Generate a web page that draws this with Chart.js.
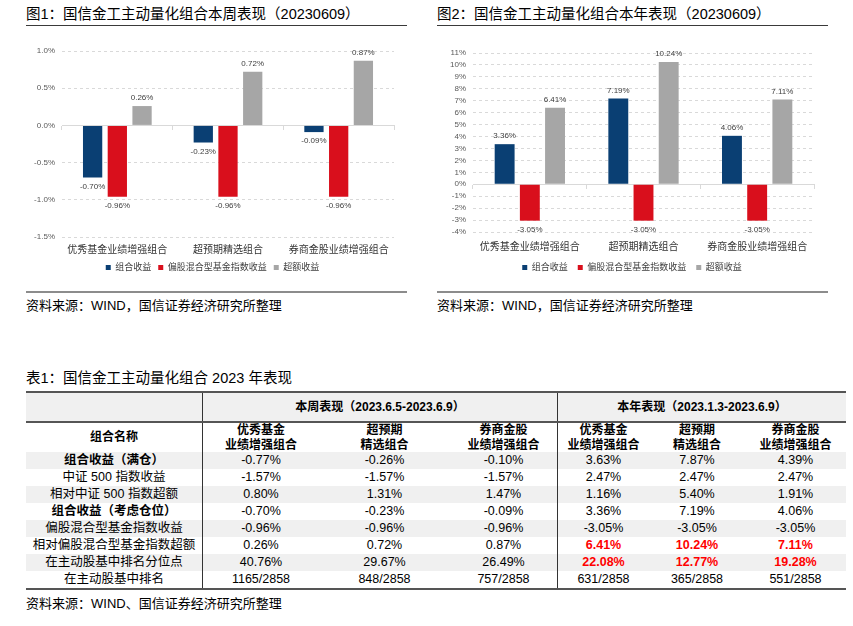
<!DOCTYPE html>
<html>
<head>
<meta charset="utf-8">
<script src="https://cdn.jsdelivr.net/npm/chart.js@4.4.0/dist/chart.umd.min.js"></script>
<style>
  body { margin: 0; width: 853px; height: 626px; background: #fff; position: relative; overflow: hidden;
         font-family: "Liberation Sans", Arial, "Noto Sans CJK SC", sans-serif; color: #000; }
  .fig-title { position: absolute; top: 4px; height: 21px; line-height: 21px; font-size: 14.5px;
               border-bottom: 1.5px solid #3a3a3a; white-space: nowrap; }
  .fig-foot { position: absolute; top: 291px; border-top: 2px solid #8c8c8c; padding-top: 5px;
              font-size: 13px; line-height: 16px; white-space: nowrap; }
  .chart-box { position: absolute; top: 36px; height: 246px; }
  #tbl-title { position: absolute; left: 26px; top: 369px; font-size: 14.5px; line-height: 18px; white-space: nowrap; }
  #tbl { position: absolute; left: 26px; top: 391px; width: 820px; font-size: 12.5px; }
  .row { display: flex; box-sizing: border-box; }
  .row > div { box-sizing: border-box; text-align: center; white-space: nowrap; }
  .head1 { height: 32px; line-height: 28px; background: #f0f0f0; border-top: 2px solid #555; border-bottom: 2px solid #555; font-weight: bold; font-size: 12px; }
  .head2 { height: 29px; font-weight: bold; font-size: 12px; line-height: 15px; }
  .head2 > div { display: flex; flex-direction: column; justify-content: center; }
  .data { height: 17px; line-height: 17px; }
  .data.shade { background: #f0f0f0; }
  .data.last { height: 19px; border-bottom: 2px solid #555; }
  .sep { border-left: 1px solid #333; }
  .b { font-weight: bold; }
  .red { color: #ff0000; font-weight: bold; }
  #tbl-foot { position: absolute; left: 26px; top: 596px; font-size: 13px; line-height: 16px; white-space: nowrap; }
</style>
</head>
<body>

<div class="fig-title" style="left:26px;width:381px;">图1：国信金工主动量化组合本周表现（20230609）</div>
<div class="fig-title" style="left:437px;width:391px;">图2：国信金工主动量化组合本年表现（20230609）</div>

<div class="chart-box" style="left:20px;width:387px;"><canvas id="weekChart"></canvas></div>
<div class="chart-box" style="left:430px;width:398px;"><canvas id="yearChart"></canvas></div>

<div class="fig-foot" style="left:26px;width:381px;">资料来源：WIND，国信证券经济研究所整理</div>
<div class="fig-foot" style="left:437px;width:391px;">资料来源：WIND，国信证券经济研究所整理</div>

<div id="tbl-title">表1：国信金工主动量化组合 2023 年表现</div>
<div id="tbl"></div>
<div id="tbl-foot">资料来源：WIND、国信证券经济研究所整理</div>

<script>
// chart data
const categories = ['优秀基金业绩增强组合', '超预期精选组合', '券商金股业绩增强组合'];
const seriesNames = ['组合收益', '偏股混合型基金指数收益', '超额收益'];
const seriesColors = ['#0a3f73', '#d90f1c', '#a6a6a6'];

const weekPortfolio = [-0.70, -0.23, -0.09];
const weekIndex = [-0.96, -0.96, -0.96];
const weekExcess = [0.26, 0.72, 0.87];

const yearPortfolio = [3.36, 7.19, 4.06];
const yearIndex = [-3.05, -3.05, -3.05];
const yearExcess = [6.41, 10.24, 7.11];

// table data
const sectionHeads = ['本周表现（2023.6.5-2023.6.9）', '本年表现（2023.1.3-2023.6.9）'];
const colHeads = [['优秀基金', '业绩增强组合'], ['超预期', '精选组合'], ['券商金股', '业绩增强组合']];
const rowNames = ['组合收益（满仓）', '中证 500 指数收益', '相对中证 500 指数超额', '组合收益（考虑仓位）',
                  '偏股混合型基金指数收益', '相对偏股混合型基金指数超额', '在主动股基中排名分位点', '在主动股基中排名'];
const boldRows = [0, 3];
const weekRows = [
    ['-0.77%', '-0.26%', '-0.10%'],
    ['-1.57%', '-1.57%', '-1.57%'],
    ['0.80%', '1.31%', '1.47%'],
    ['-0.70%', '-0.23%', '-0.09%'],
    ['-0.96%', '-0.96%', '-0.96%'],
    ['0.26%', '0.72%', '0.87%'],
    ['40.76%', '29.67%', '26.49%'],
    ['1165/2858', '848/2858', '757/2858']
];
const yearRows = [
    ['3.63%', '7.87%', '4.39%'],
    ['2.47%', '2.47%', '2.47%'],
    ['1.16%', '5.40%', '1.91%'],
    ['3.36%', '7.19%', '4.06%'],
    ['-3.05%', '-3.05%', '-3.05%'],
    ['6.41%', '10.24%', '7.11%'],
    ['22.08%', '12.77%', '19.28%'],
    ['631/2858', '365/2858', '551/2858']
];
const redYearRows = [5, 6];

Chart.defaults.font.family = '"Liberation Sans", Arial, "Noto Sans CJK SC", sans-serif';

// value labels above / below each bar
const barLabels = {
    id: 'barLabels',
    afterDatasetsDraw(chart) {
        const ctx = chart.ctx;
        ctx.save();
        ctx.font = '8px "Liberation Sans", Arial';
        ctx.fillStyle = '#404040';
        ctx.textAlign = 'center';
        ctx.textBaseline = 'middle';
        chart.data.datasets.forEach((ds, i) => {
            chart.getDatasetMeta(i).data.forEach((bar, j) => {
                const v = ds.data[j];
                ctx.fillText(v.toFixed(2) + '%', bar.x, v >= 0 ? bar.y - 8 : bar.y + 9);
            });
        });
        ctx.restore();
    }
};

function buildChart(id, values, opt) {
    return new Chart(document.getElementById(id), {
        type: 'bar',
        data: {
            labels: categories,
            datasets: values.map((d, i) => ({
                label: seriesNames[i],
                data: d,
                backgroundColor: seriesColors[i],
                borderWidth: 0,
                categoryPercentage: opt.catPct,
                barPercentage: opt.barPct
            }))
        },
        options: {
            responsive: true,
            maintainAspectRatio: false,
            animation: false,
            layout: {padding: {top: opt.padTop, left: opt.padLeft, right: opt.padRight, bottom: 0}},
            scales: {
                x: {
                    grid: {display: false, drawTicks: false},
                    border: {display: false},
                    ticks: {color: '#333', font: {size: 10}, padding: opt.xPad, maxRotation: 0, autoSkip: false},
                    afterFit: s => { s.height = opt.xHeight; }
                },
                zero: {
                    type: 'category',
                    axis: 'x',
                    position: {y: 0},
                    offset: true,
                    grid: {offset: true, drawOnChartArea: false, tickLength: 4, color: '#d9d9d9'},
                    border: {display: true, color: '#d9d9d9'},
                    ticks: {display: false},
                    afterFit: s => { s.height = 0; }
                },
                y: {
                    min: opt.min,
                    max: opt.max,
                    ticks: {stepSize: opt.step, autoSkip: false, color: '#595959', font: {size: 8}, padding: 7, callback: opt.fmt},
                    grid: {
                        drawTicks: false,
                        color: c => (c.tick && c.tick.value === 0) ? 'rgba(0,0,0,0)' : '#d9d9d9'
                    },
                    border: {display: false, dash: [3, 3]},
                    afterFit: s => { s.width = opt.yWidth; }
                }
            },
            plugins: {
                legend: {
                    position: 'bottom',
                    labels: {boxWidth: 5, boxHeight: 5, padding: opt.legendPad, color: '#404040', font: {size: 9}}
                },
                tooltip: {enabled: false}
            }
        },
        plugins: [barLabels]
    });
}

buildChart('weekChart', [weekPortfolio, weekIndex, weekExcess], {
    min: -1.5, max: 1.0, step: 0.5, fmt: v => v.toFixed(1) + '%',
    catPct: 0.67, barPct: 0.78,
    padTop: 15, padLeft: 11, padRight: 13, yWidth: 31, xPad: 7, xHeight: 19, legendPad: 7
});

buildChart('yearChart', [yearPortfolio, yearIndex, yearExcess], {
    min: -4, max: 11, step: 1, fmt: v => v + '%',
    catPct: 0.665, barPct: 0.79,
    padTop: 17, padLeft: 20, padRight: 14, yWidth: 23, xPad: 9, xHeight: 21, legendPad: 10
});

// table
const labelW = 176;
const weekW = [117, 131, 107];
const yearW = [92, 96, 101];

function cell(text, w, cls) {
    return `<div class="${cls || ''}" style="width:${w}px">${text}</div>`;
}

let html = '<div class="row head1">' + cell('', labelW) +
    cell(sectionHeads[0], weekW.reduce((a, b) => a + b), 'sep') +
    cell(sectionHeads[1], yearW.reduce((a, b) => a + b), 'sep') + '</div>';

html += '<div class="row head2">' + cell('组合名称', labelW);
colHeads.forEach((h, i) => { html += cell(h.join('<br>'), weekW[i], i === 0 ? 'sep' : ''); });
colHeads.forEach((h, i) => { html += cell(h.join('<br>'), yearW[i], i === 0 ? 'sep' : ''); });
html += '</div>';

rowNames.forEach((name, r) => {
    let cls = 'row data';
    if (r % 2 === 0) cls += ' shade';
    if (r === rowNames.length - 1) cls += ' last';
    html += `<div class="${cls}">` + cell(name, labelW, boldRows.includes(r) ? 'b' : '');
    weekRows[r].forEach((v, i) => { html += cell(v, weekW[i], i === 0 ? 'sep' : ''); });
    yearRows[r].forEach((v, i) => {
        const c = [i === 0 ? 'sep' : '', redYearRows.includes(r) ? 'red' : ''].join(' ');
        html += cell(v, yearW[i], c);
    });
    html += '</div>';
});
document.getElementById('tbl').innerHTML = html;
</script>
</body>
</html>
